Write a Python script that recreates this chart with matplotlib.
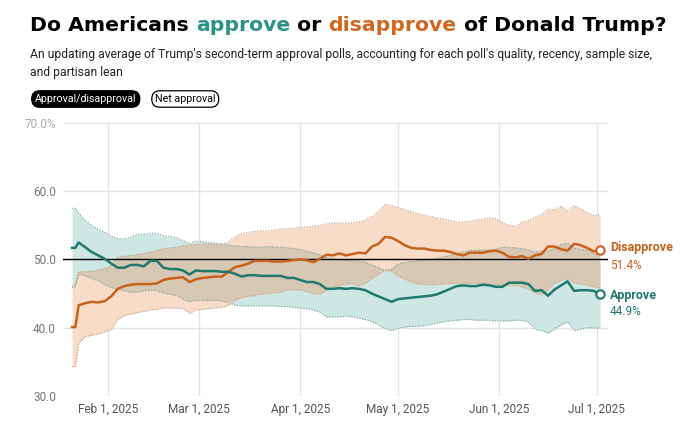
import matplotlib.pyplot as plt
import numpy as np
import pandas as pd

# days after Jan 20, 2025
days = [1, 2, 3, 5, 7, 9, 11, 13, 15, 17, 19, 21, 23, 25, 27, 29, 31, 33, 35, 37,
        39, 41, 43, 45, 47, 49, 51, 53, 55, 57, 59, 61, 63, 65, 67, 69, 71, 73, 75, 77,
        79, 81, 83, 85, 87, 89, 91, 93, 95, 97, 99, 101, 103, 105, 107, 109, 111, 113, 115, 117,
        119, 121, 123, 125, 127, 129, 131, 133, 135, 137, 139, 141, 143, 145, 147, 149, 151, 153, 155, 157,
        159, 161, 163]

approve = [51.7, 51.7, 52.5, 51.8, 51.1, 50.6, 50.1, 49.4, 48.8, 48.8, 49.2, 49.2, 49.0, 49.8, 49.8, 48.8, 48.6, 48.6, 48.4, 47.8,
           48.4, 48.3, 48.3, 48.3, 48.2, 48.2, 47.9, 47.5, 47.7, 47.7, 47.6, 47.6, 47.6, 47.6, 47.3, 47.3, 47.0, 46.7, 46.7, 46.4,
           45.7, 45.7, 45.8, 45.7, 45.8, 45.7, 45.5, 45.0, 44.6, 44.2, 43.8, 44.2, 44.3, 44.4, 44.5, 44.6, 44.7, 44.9, 45.3, 45.7,
           46.1, 46.2, 46.1, 46.1, 46.3, 46.2, 46.0, 46.0, 46.6, 46.6, 46.6, 46.4, 45.4, 45.5, 44.7, 45.6, 46.2, 46.8, 45.4, 45.5,
           45.5, 45.4, 44.9]
approve_hi = [57.5, 57.5, 56.8, 55.7, 55.0, 54.4, 54.0, 53.4, 53.1, 53.0, 53.3, 53.7, 53.7, 53.9, 53.8, 53.5, 53.4, 53.2, 52.8, 52.4,
              52.7, 52.6, 52.5, 52.4, 52.2, 52.1, 52.0, 51.9, 51.9, 51.8, 51.8, 51.9, 51.8, 51.8, 51.7, 51.6, 51.5, 51.2, 51.0, 50.7,
              50.3, 50.1, 50.0, 49.9, 49.8, 49.8, 49.6, 49.2, 48.8, 48.4, 48.6, 49.3, 49.6, 49.7, 49.8, 49.9, 50.0, 50.2, 50.4, 50.6,
              50.9, 51.1, 51.3, 51.4, 51.4, 51.4, 51.5, 51.8, 51.8, 51.7, 51.6, 51.4, 51.1, 51.2, 51.3, 51.6, 52.2, 52.4, 51.7, 51.5,
              51.4, 51.0, 50.4]
approve_lo = [46.0, 46.0, 47.8, 47.6, 47.2, 46.9, 46.3, 45.9, 45.6, 45.4, 45.2, 45.2, 45.4, 45.5, 45.4, 45.1, 44.9, 44.7, 44.2, 43.8,
              44.0, 44.0, 44.0, 44.0, 43.9, 43.7, 43.3, 43.2, 43.2, 43.2, 43.2, 43.2, 43.2, 43.1, 43.1, 43.0, 42.9, 42.8, 42.6, 42.3,
              41.6, 41.6, 41.6, 41.7, 41.6, 41.4, 41.2, 40.9, 40.4, 39.9, 39.6, 39.9, 40.1, 40.2, 40.2, 40.3, 40.5, 40.7, 40.9, 41.0,
              41.1, 41.2, 41.2, 41.1, 41.1, 41.1, 41.0, 41.0, 41.0, 41.1, 41.1, 40.8, 39.8, 39.6, 39.2, 39.8, 40.4, 40.9, 39.6, 39.8,
              40.0, 40.0, 39.9]

disapprove = [40.1, 40.1, 43.3, 43.6, 43.8, 43.7, 43.9, 44.6, 45.7, 46.1, 46.3, 46.4, 46.4, 46.4, 46.5, 47.0, 47.2, 47.3, 47.4, 46.7,
              47.1, 47.3, 47.4, 47.5, 47.5, 48.2, 48.9, 49.1, 49.4, 49.8, 49.8, 49.8, 49.7, 49.7, 49.8, 49.9, 50.0, 49.9, 49.6, 50.1,
              50.7, 50.6, 50.9, 50.6, 50.8, 51.0, 50.9, 51.9, 52.3, 53.3, 53.2, 52.7, 52.1, 51.7, 51.6, 51.6, 51.4, 51.3, 51.3, 51.1,
              50.8, 50.6, 51.0, 51.0, 51.0, 51.2, 51.3, 51.0, 50.4, 50.3, 50.5, 50.1, 50.6, 50.8, 51.9, 51.9, 51.5, 51.3, 52.3, 52.1,
              51.7, 51.2, 51.4]
disapprove_hi = [45.8, 46.5, 48.2, 48.2, 48.3, 48.4, 48.7, 49.1, 50.3, 50.5, 50.6, 50.7, 50.9, 51.1, 51.3, 51.6, 51.7, 51.8, 52.0, 52.1,
                 52.2, 52.3, 52.3, 52.2, 52.3, 52.6, 53.4, 53.8, 54.0, 54.1, 54.2, 54.2, 54.3, 54.5, 54.5, 54.6, 54.7, 54.8, 54.9, 55.0,
                 55.2, 55.4, 55.3, 55.3, 55.4, 55.5, 55.8, 56.3, 57.0, 58.1, 57.9, 57.6, 57.3, 57.0, 56.7, 56.5, 56.3, 56.1, 55.9, 55.7,
                 55.5, 55.5, 55.6, 55.8, 55.9, 56.1, 56.0, 55.4, 55.0, 54.9, 55.5, 55.7, 56.2, 56.6, 57.4, 57.3, 57.8, 57.1, 57.9, 57.4,
                 56.9, 56.4, 56.6]
disapprove_lo = [34.3, 34.3, 37.7, 38.7, 38.9, 39.1, 39.4, 39.7, 41.2, 41.8, 42.0, 42.2, 42.4, 42.6, 42.7, 42.9, 42.9, 42.9, 42.8, 42.1,
                 42.6, 42.7, 42.8, 42.9, 43.0, 43.3, 44.0, 44.4, 44.6, 44.7, 44.9, 45.0, 45.1, 45.2, 45.5, 45.6, 45.5, 45.3, 45.0, 44.9,
                 45.5, 45.9, 46.2, 46.4, 46.5, 46.1, 46.5, 47.2, 47.8, 48.4, 48.3, 47.6, 47.1, 46.7, 46.4, 46.3, 46.3, 46.3, 46.4, 46.5,
                 46.5, 46.5, 46.5, 46.5, 46.4, 46.4, 46.3, 46.2, 46.2, 46.2, 46.0, 45.6, 45.1, 44.8, 45.6, 46.5, 46.9, 47.2, 46.6, 46.4,
                 46.2, 46.0, 45.8]

month_ticks = ['2025-02-01', '2025-03-01', '2025-04-01', '2025-05-01', '2025-06-01', '2025-07-01']
month_labels = ['Feb 1, 2025', 'Mar 1, 2025', 'Apr 1, 2025', 'May 1, 2025', 'Jun 1, 2025', 'Jul 1, 2025']
y_ticks = [30, 40, 50, 60, 70]
y_labels = ['30.0', '40.0', '50.0', '60.0', '70.0%']

TEAL = '#1e7a6d'
ORANGE = '#c8611c'
TEAL_FILL = '#cfe7e3'
ORANGE_FILL = '#f9dcc8'
BOTH_FILL = '#d6c8b2'
NARROW = ['Roboto', 'DejaVu Sans']

start = pd.Timestamp('2025-01-20')
dates = start + pd.to_timedelta(days, unit='D')
a_hi, a_lo = np.array(approve_hi), np.array(approve_lo)
d_hi, d_lo = np.array(disapprove_hi), np.array(disapprove_lo)

fig = plt.figure(figsize=(6.9, 4.38), dpi=100)
fig.patch.set_facecolor('white')
W, H = 690, 438
ax = fig.add_axes([63 / W, 1 - 396 / H, 545 / W, 273 / H])

# bands: teal, orange, then the overlap in a multiplied tone
ax.fill_between(dates, a_lo, a_hi, color=TEAL_FILL, lw=0, zorder=1)
ax.fill_between(dates, d_lo, d_hi, color=ORANGE_FILL, lw=0, zorder=1.1)
top = np.minimum(a_hi, d_hi)
bot = np.maximum(a_lo, d_lo)
ax.fill_between(dates, bot, top, where=top > bot, interpolate=True,
                color=BOTH_FILL, lw=0, zorder=1.2)
for arr, c in [(a_hi, '#6f9c94'), (a_lo, '#6f9c94'), (d_hi, '#b99a84'), (d_lo, '#b99a84')]:
    ax.plot(dates, arr, color=c, lw=0.8, ls=(0, (1, 1.5)), zorder=1.5)

ax.axhline(50, color='black', lw=1.0, zorder=2)
ax.plot(dates, disapprove, color=ORANGE, lw=1.8, zorder=3, solid_joinstyle='round')
ax.plot(dates, approve, color=TEAL, lw=1.8, zorder=3, solid_joinstyle='round')
ax.plot(dates[-1], disapprove[-1], 'o', ms=6, mfc='white', mec=ORANGE, mew=1.5, zorder=4)
ax.plot(dates[-1], approve[-1], 'o', ms=6, mfc='white', mec=TEAL, mew=1.5, zorder=4)

ax.set_ylim(30, 70)
ax.set_xlim(start - pd.Timedelta(days=1.8), start + pd.Timedelta(days=165.4))
ax.set_yticks(y_ticks)
ax.set_yticklabels(y_labels)
ax.set_xticks(pd.to_datetime(month_ticks))
ax.set_xticklabels(month_labels)
ax.grid(True, color='#e4e4e4', lw=1.0, zorder=0)
ax.set_axisbelow(True)
for s in ax.spines.values():
    s.set_visible(False)
ax.tick_params(length=0, labelsize=8.5, labelcolor='#777777', pad=5)
for lab in ax.get_xticklabels() + ax.get_yticklabels():
    lab.set_family(NARROW)
for lab in ax.get_xticklabels():
    lab.set_color('#555555')
ax.yaxis.get_ticklabels()[-1].set_color('#aaaaaa')

# end labels
ax.annotate('Disapprove', (dates[-1], disapprove[-1]), xytext=(7, 1.5), textcoords='offset points',
            color=ORANGE, fontsize=9, fontweight='bold', family=NARROW, va='center')
ax.annotate('51.4%', (dates[-1], disapprove[-1]), xytext=(7, -11.5), textcoords='offset points',
            color=ORANGE, fontsize=8.5, family=NARROW, va='center')
ax.annotate('Approve', (dates[-1], approve[-1]), xytext=(7, -0.5), textcoords='offset points',
            color=TEAL, fontsize=9, fontweight='bold', family=NARROW, va='center')
ax.annotate('44.9%', (dates[-1], approve[-1]), xytext=(7, -12.5), textcoords='offset points',
            color=TEAL, fontsize=8.5, family=NARROW, va='center')

fig.canvas.draw()
renderer = fig.canvas.get_renderer()


def fit_width(t, target):
    # shrink or grow a text so it spans the given pixel width
    w = t.get_window_extent(renderer).width
    t.set_fontsize(t.get_fontsize() * target / w)


# title with coloured words
parts = [('Do Americans ', 'black'), ('approve', '#2a9385'), (' or ', 'black'),
         ('disapprove', '#d2681f'), (' of Donald Trump?', 'black')]
title_font = ['DejaVu Sans']
probe = fig.text(0, 0, ''.join(p[0] for p in parts), fontsize=15, fontweight='bold', family=title_font)
fit_width(probe, 638)
tsize = probe.get_fontsize()
probe.remove()
x = 30 / W
for txt, c in parts:
    t = fig.text(x, 1 - 31 / H, txt, color=c, fontsize=tsize, fontweight='bold',
                 family=title_font, va='baseline')
    x += t.get_window_extent(renderer).width / W

sub = fig.text(30 / W, 1 - 58 / H,
               "An updating average of Trump's second-term approval polls, accounting for each poll's quality, recency, sample size,",
               fontsize=10, family=NARROW, color='#222222', va='baseline')
fit_width(sub, 626)
fig.text(30 / W, 1 - 76 / H, 'and partisan lean',
         fontsize=sub.get_fontsize(), family=NARROW, color='#222222', va='baseline')

b1 = fig.text(35 / W, 1 - 99 / H, 'Approval/disapproval', fontsize=8.5, family=NARROW, color='white',
              va='center', bbox=dict(boxstyle='round,pad=0.3,rounding_size=0.75', fc='black', ec='black'))
fit_width(b1, 101)
b2 = fig.text(155 / W, 1 - 99 / H, 'Net approval', fontsize=b1.get_fontsize(), family=NARROW, color='black',
              va='center', bbox=dict(boxstyle='round,pad=0.3,rounding_size=0.75', fc='white', ec='black', lw=0.9))

fig.savefig('out.png', dpi=100, facecolor='white')
